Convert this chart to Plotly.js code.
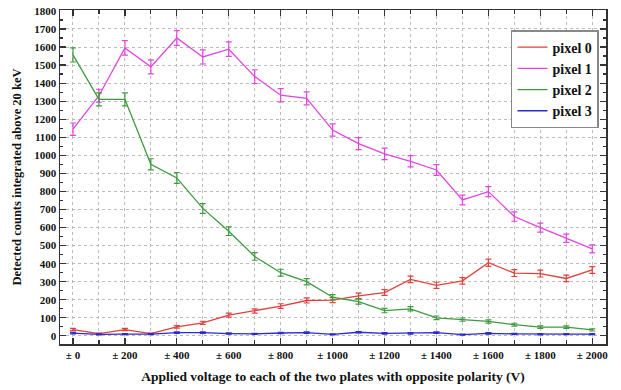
<!DOCTYPE html>
<html>
<head>
<meta charset="utf-8">
<script src="https://cdn.plot.ly/plotly-3.0.1.min.js"></script>
<style>html,body{margin:0;padding:0;background:#fff;}#chart{width:621px;height:390px;}</style>
</head>
<body>
<div id="chart"></div>
<script>
const voltages = [0,100,200,300,400,500,600,700,800,900,1000,1100,1200,1300,1400,1500,1600,1700,1800,1900,2000];
const pixel0 = [35,12,35,12,50,72,115,138,165,196,198,222,240,313,280,305,405,348,345,318,365];
const pixel1 = [1145,1330,1595,1490,1650,1545,1588,1436,1333,1315,1140,1065,1008,967,919,753,799,661,600,541,482];
const pixel2 = [1556,1310,1310,950,875,706,580,440,350,300,214,190,140,150,100,90,80,62,48,48,33];
const pixel3 = [15,8,10,10,18,18,13,11,16,18,8,20,14,14,18,7,14,11,9,10,10];
const err0 = [6,4,6,4,7,9,11,12,13,14,14,15,16,18,17,18,20,19,19,18,19];
const err1 = [34,36,40,39,41,39,40,38,37,36,34,33,32,31,30,27,28,26,25,23,22];
const err2 = [39,36,36,31,30,27,24,21,19,17,15,14,12,12,10,9,9,8,7,7,6];
const err3 = [4,3,3,3,4,4,4,3,4,4,3,4,4,4,4,3,4,3,3,3,3];
const names = ['pixel 0','pixel 1','pixel 2','pixel 3'];
const colors = ['#e0403c','#e244e2','#3e9a3e','#2b2bd0'];
const xTickVals = [0,200,400,600,800,1000,1200,1400,1600,1800,2000];
const xTickText = ['± 0','± 200','± 400','± 600','± 800','± 1000','± 1200','± 1400','± 1600','± 1800','± 2000'];

const series = [pixel0,pixel1,pixel2,pixel3];
const errs = [err0,err1,err2,err3];
const traces = series.map((s,i)=>({
  x: voltages, y: s, name: names[i], type:'scatter', mode:'lines',
  line:{color:colors[i], width:1.3},
  error_y:{type:'data', array:errs[i], visible:true, color:colors[i], thickness:1.2, width:3}
}));

const fam = 'Liberation Serif, Times New Roman, serif';
const layout = {
  width:621, height:390,
  margin:{l:60, r:15, t:10, b:46},
  paper_bgcolor:'#fff', plot_bgcolor:'#fff',
  font:{family:fam, size:11, color:'#111'},
  showlegend:true,
  legend:{x:0.826, y:0.94, xanchor:'left', yanchor:'top', bgcolor:'#fff', bordercolor:'#888', borderwidth:1.5,
    font:{family:fam, size:14, weight:'bold', color:'#111'}, tracegroupgap:0, itemwidth:30},
  xaxis:{
    range:[-50,2053], tickvals:xTickVals, ticktext:xTickText,
    ticks:'inside', ticklen:6, tickwidth:1.2, tickcolor:'#333',
    showline:true, linecolor:'#333', linewidth:1.5, mirror:'allticks',
    showgrid:true, gridcolor:'#bbb', griddash:'dot', gridwidth:1,
    zeroline:false,
    minor:{dtick:100, tick0:0, ticks:'inside', ticklen:4, tickcolor:'#333', showgrid:true, gridcolor:'#bbb', griddash:'dot', gridwidth:1},
    tickfont:{family:fam, size:11, weight:'bold', color:'#111'},
    title:{text:'Applied voltage to each of the two plates with opposite polarity (V)', standoff:12,
      font:{family:fam, size:13.5, weight:'bold', color:'#111'}}
  },
  yaxis:{
    range:[-45,1805], dtick:100, tick0:0,
    ticks:'inside', ticklen:6, tickwidth:1.2, tickcolor:'#333',
    showline:true, linecolor:'#333', linewidth:1.5, mirror:'allticks',
    showgrid:true, gridcolor:'#bbb', griddash:'dot', gridwidth:1,
    zeroline:false,
    minor:{dtick:50, tick0:0, ticks:'inside', ticklen:3, tickcolor:'#333', showgrid:false},
    tickfont:{family:fam, size:11, weight:'bold', color:'#111'},
    title:{text:'Detected counts integrated above 20 keV', standoff:10,
      font:{family:fam, size:12.5, weight:'bold', color:'#111'}}
  }
};
Plotly.newPlot('chart', traces, layout, {displayModeBar:false, staticPlot:true});
</script>
</body>
</html>
